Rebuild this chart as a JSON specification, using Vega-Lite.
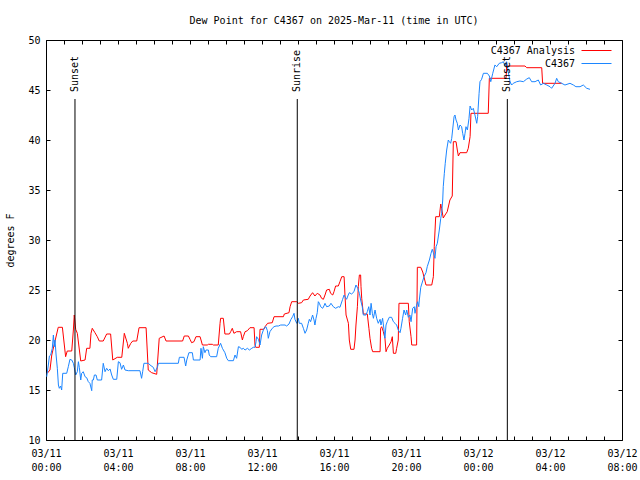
{
"$schema": "https://vega.github.io/schema/vega-lite/v6.json",
"width": 576, "height": 400,
"autosize": {"type": "none"},
"padding": {"left": 46, "top": 40, "right": 18, "bottom": 40},
"background": "white",
"title": {"text": "Dew Point for C4367 on 2025-Mar-11 (time in UTC)", "font": "DejaVu Sans Mono", "fontSize": 10, "fontWeight": "normal", "color": "black", "anchor": "middle", "offset": 9},
"config": {"view": {"stroke": "black", "strokeWidth": 1}, "axis": {"grid": false, "domain": false, "tickColor": "black", "labelColor": "black", "labelFont": "DejaVu Sans Mono", "labelFontSize": 10, "titleFont": "DejaVu Sans Mono", "titleFontSize": 10, "titleFontWeight": "normal", "titleColor": "black"}},
"datasets": {
"sun": [{"event": "Sunset", "hour": 1.61}, {"event": "Sunrise", "hour": 13.96}, {"event": "Sunset", "hour": 25.63}],
"dew": [
{"series":"C4367 Analysis","hour":0.07,"dewF":16.67},{"series":"C4367 Analysis","hour":0.22,"dewF":17.0},{"series":"C4367 Analysis","hour":0.32,"dewF":18.5},{"series":"C4367 Analysis","hour":0.68,"dewF":21.27},{"series":"C4367 Analysis","hour":0.91,"dewF":21.27},{"series":"C4367 Analysis","hour":1.09,"dewF":18.33},{"series":"C4367 Analysis","hour":1.18,"dewF":18.9},{"series":"C4367 Analysis","hour":1.43,"dewF":18.9},{"series":"C4367 Analysis","hour":1.52,"dewF":21.0},{"series":"C4367 Analysis","hour":1.57,"dewF":22.5},{"series":"C4367 Analysis","hour":1.65,"dewF":21.07},{"series":"C4367 Analysis","hour":1.74,"dewF":20.67},{"series":"C4367 Analysis","hour":1.93,"dewF":17.9},{"series":"C4367 Analysis","hour":2.17,"dewF":18.0},{"series":"C4367 Analysis","hour":2.26,"dewF":19.17},{"series":"C4367 Analysis","hour":2.44,"dewF":19.17},{"series":"C4367 Analysis","hour":2.5,"dewF":20.67},{"series":"C4367 Analysis","hour":2.57,"dewF":21.17},{"series":"C4367 Analysis","hour":2.72,"dewF":20.73},{"series":"C4367 Analysis","hour":2.85,"dewF":20.33},{"series":"C4367 Analysis","hour":2.96,"dewF":19.9},{"series":"C4367 Analysis","hour":3.18,"dewF":19.9},{"series":"C4367 Analysis","hour":3.37,"dewF":20.6},{"series":"C4367 Analysis","hour":3.59,"dewF":20.6},{"series":"C4367 Analysis","hour":3.71,"dewF":18.0},{"series":"C4367 Analysis","hour":3.96,"dewF":18.27},{"series":"C4367 Analysis","hour":4.21,"dewF":18.27},{"series":"C4367 Analysis","hour":4.35,"dewF":20.67},{"series":"C4367 Analysis","hour":4.52,"dewF":19.67},{"series":"C4367 Analysis","hour":4.57,"dewF":19.17},{"series":"C4367 Analysis","hour":4.71,"dewF":19.67},{"series":"C4367 Analysis","hour":4.82,"dewF":19.9},{"series":"C4367 Analysis","hour":5.04,"dewF":19.9},{"series":"C4367 Analysis","hour":5.17,"dewF":21.23},{"series":"C4367 Analysis","hour":5.56,"dewF":21.23},{"series":"C4367 Analysis","hour":5.68,"dewF":17.0},{"series":"C4367 Analysis","hour":5.87,"dewF":16.73},{"series":"C4367 Analysis","hour":6.15,"dewF":16.57},{"series":"C4367 Analysis","hour":6.29,"dewF":20.17},{"series":"C4367 Analysis","hour":6.56,"dewF":20.4},{"series":"C4367 Analysis","hour":6.67,"dewF":19.9},{"series":"C4367 Analysis","hour":7.59,"dewF":19.9},{"series":"C4367 Analysis","hour":7.68,"dewF":20.4},{"series":"C4367 Analysis","hour":7.91,"dewF":20.4},{"series":"C4367 Analysis","hour":8.0,"dewF":20.07},{"series":"C4367 Analysis","hour":8.09,"dewF":19.73},{"series":"C4367 Analysis","hour":8.22,"dewF":19.83},{"series":"C4367 Analysis","hour":8.33,"dewF":20.33},{"series":"C4367 Analysis","hour":8.56,"dewF":20.33},{"series":"C4367 Analysis","hour":8.69,"dewF":19.5},{"series":"C4367 Analysis","hour":8.96,"dewF":19.5},{"series":"C4367 Analysis","hour":9.02,"dewF":19.57},{"series":"C4367 Analysis","hour":9.24,"dewF":19.57},{"series":"C4367 Analysis","hour":9.3,"dewF":19.5},{"series":"C4367 Analysis","hour":9.57,"dewF":19.5},{"series":"C4367 Analysis","hour":9.67,"dewF":21.67},{"series":"C4367 Analysis","hour":9.7,"dewF":22.17},{"series":"C4367 Analysis","hour":9.85,"dewF":22.17},{"series":"C4367 Analysis","hour":9.94,"dewF":20.6},{"series":"C4367 Analysis","hour":10.19,"dewF":20.6},{"series":"C4367 Analysis","hour":10.26,"dewF":20.83},{"series":"C4367 Analysis","hour":10.35,"dewF":21.17},{"series":"C4367 Analysis","hour":10.44,"dewF":20.67},{"series":"C4367 Analysis","hour":10.59,"dewF":20.83},{"series":"C4367 Analysis","hour":10.81,"dewF":20.83},{"series":"C4367 Analysis","hour":10.91,"dewF":20.0},{"series":"C4367 Analysis","hour":10.96,"dewF":20.33},{"series":"C4367 Analysis","hour":11.06,"dewF":20.83},{"series":"C4367 Analysis","hour":11.19,"dewF":20.93},{"series":"C4367 Analysis","hour":11.33,"dewF":21.23},{"series":"C4367 Analysis","hour":11.56,"dewF":21.23},{"series":"C4367 Analysis","hour":11.61,"dewF":19.5},{"series":"C4367 Analysis","hour":11.65,"dewF":19.27},{"series":"C4367 Analysis","hour":11.85,"dewF":19.27},{"series":"C4367 Analysis","hour":11.89,"dewF":21.07},{"series":"C4367 Analysis","hour":12.11,"dewF":21.07},{"series":"C4367 Analysis","hour":12.17,"dewF":21.33},{"series":"C4367 Analysis","hour":12.31,"dewF":21.67},{"series":"C4367 Analysis","hour":12.57,"dewF":21.73},{"series":"C4367 Analysis","hour":12.67,"dewF":22.33},{"series":"C4367 Analysis","hour":13.19,"dewF":22.33},{"series":"C4367 Analysis","hour":13.24,"dewF":22.6},{"series":"C4367 Analysis","hour":13.5,"dewF":22.73},{"series":"C4367 Analysis","hour":13.56,"dewF":23.33},{"series":"C4367 Analysis","hour":13.65,"dewF":23.83},{"series":"C4367 Analysis","hour":13.93,"dewF":23.83},{"series":"C4367 Analysis","hour":14.02,"dewF":23.67},{"series":"C4367 Analysis","hour":14.2,"dewF":23.73},{"series":"C4367 Analysis","hour":14.3,"dewF":24.0},{"series":"C4367 Analysis","hour":14.57,"dewF":24.07},{"series":"C4367 Analysis","hour":14.67,"dewF":24.4},{"series":"C4367 Analysis","hour":14.81,"dewF":24.73},{"series":"C4367 Analysis","hour":14.94,"dewF":24.4},{"series":"C4367 Analysis","hour":15.07,"dewF":24.67},{"series":"C4367 Analysis","hour":15.22,"dewF":24.5},{"series":"C4367 Analysis","hour":15.31,"dewF":24.17},{"series":"C4367 Analysis","hour":15.41,"dewF":24.07},{"series":"C4367 Analysis","hour":15.5,"dewF":24.5},{"series":"C4367 Analysis","hour":15.59,"dewF":25.0},{"series":"C4367 Analysis","hour":15.74,"dewF":25.07},{"series":"C4367 Analysis","hour":15.81,"dewF":24.67},{"series":"C4367 Analysis","hour":15.93,"dewF":24.5},{"series":"C4367 Analysis","hour":16.0,"dewF":24.83},{"series":"C4367 Analysis","hour":16.09,"dewF":25.4},{"series":"C4367 Analysis","hour":16.24,"dewF":25.4},{"series":"C4367 Analysis","hour":16.33,"dewF":25.83},{"series":"C4367 Analysis","hour":16.43,"dewF":26.33},{"series":"C4367 Analysis","hour":16.56,"dewF":26.33},{"series":"C4367 Analysis","hour":16.61,"dewF":24.5},{"series":"C4367 Analysis","hour":16.67,"dewF":22.5},{"series":"C4367 Analysis","hour":16.8,"dewF":21.67},{"series":"C4367 Analysis","hour":16.85,"dewF":20.0},{"series":"C4367 Analysis","hour":16.93,"dewF":19.07},{"series":"C4367 Analysis","hour":17.11,"dewF":19.07},{"series":"C4367 Analysis","hour":17.17,"dewF":20.0},{"series":"C4367 Analysis","hour":17.22,"dewF":21.5},{"series":"C4367 Analysis","hour":17.3,"dewF":23.33},{"series":"C4367 Analysis","hour":17.35,"dewF":25.33},{"series":"C4367 Analysis","hour":17.41,"dewF":26.5},{"series":"C4367 Analysis","hour":17.48,"dewF":26.5},{"series":"C4367 Analysis","hour":17.5,"dewF":25.33},{"series":"C4367 Analysis","hour":17.54,"dewF":24.17},{"series":"C4367 Analysis","hour":17.63,"dewF":22.6},{"series":"C4367 Analysis","hour":17.85,"dewF":22.6},{"series":"C4367 Analysis","hour":17.94,"dewF":21.17},{"series":"C4367 Analysis","hour":18.0,"dewF":20.17},{"series":"C4367 Analysis","hour":18.09,"dewF":19.17},{"series":"C4367 Analysis","hour":18.15,"dewF":18.83},{"series":"C4367 Analysis","hour":18.56,"dewF":18.83},{"series":"C4367 Analysis","hour":18.59,"dewF":21.17},{"series":"C4367 Analysis","hour":18.65,"dewF":21.33},{"series":"C4367 Analysis","hour":18.74,"dewF":20.83},{"series":"C4367 Analysis","hour":18.83,"dewF":20.17},{"series":"C4367 Analysis","hour":18.89,"dewF":18.83},{"series":"C4367 Analysis","hour":18.96,"dewF":19.17},{"series":"C4367 Analysis","hour":19.07,"dewF":19.5},{"series":"C4367 Analysis","hour":19.17,"dewF":19.83},{"series":"C4367 Analysis","hour":19.24,"dewF":20.33},{"series":"C4367 Analysis","hour":19.3,"dewF":18.67},{"series":"C4367 Analysis","hour":19.43,"dewF":18.67},{"series":"C4367 Analysis","hour":19.48,"dewF":19.17},{"series":"C4367 Analysis","hour":19.57,"dewF":20.0},{"series":"C4367 Analysis","hour":19.61,"dewF":23.67},{"series":"C4367 Analysis","hour":20.13,"dewF":23.67},{"series":"C4367 Analysis","hour":20.18,"dewF":21.83},{"series":"C4367 Analysis","hour":20.28,"dewF":20.33},{"series":"C4367 Analysis","hour":20.32,"dewF":19.5},{"series":"C4367 Analysis","hour":20.59,"dewF":19.5},{"series":"C4367 Analysis","hour":20.63,"dewF":27.27},{"series":"C4367 Analysis","hour":20.82,"dewF":27.27},{"series":"C4367 Analysis","hour":20.93,"dewF":26.8},{"series":"C4367 Analysis","hour":21.11,"dewF":25.5},{"series":"C4367 Analysis","hour":21.43,"dewF":25.5},{"series":"C4367 Analysis","hour":21.52,"dewF":26.33},{"series":"C4367 Analysis","hour":21.57,"dewF":29.33},{"series":"C4367 Analysis","hour":21.65,"dewF":32.33},{"series":"C4367 Analysis","hour":21.85,"dewF":32.33},{"series":"C4367 Analysis","hour":21.93,"dewF":33.6},{"series":"C4367 Analysis","hour":21.98,"dewF":33.17},{"series":"C4367 Analysis","hour":22.07,"dewF":32.2},{"series":"C4367 Analysis","hour":22.17,"dewF":32.5},{"series":"C4367 Analysis","hour":22.29,"dewF":32.83},{"series":"C4367 Analysis","hour":22.44,"dewF":34.0},{"series":"C4367 Analysis","hour":22.57,"dewF":34.4},{"series":"C4367 Analysis","hour":22.63,"dewF":39.83},{"series":"C4367 Analysis","hour":22.78,"dewF":39.83},{"series":"C4367 Analysis","hour":22.85,"dewF":39.0},{"series":"C4367 Analysis","hour":22.91,"dewF":38.4},{"series":"C4367 Analysis","hour":23.0,"dewF":38.73},{"series":"C4367 Analysis","hour":23.37,"dewF":38.73},{"series":"C4367 Analysis","hour":23.46,"dewF":39.17},{"series":"C4367 Analysis","hour":23.56,"dewF":40.33},{"series":"C4367 Analysis","hour":23.61,"dewF":42.67},{"series":"C4367 Analysis","hour":24.57,"dewF":42.67},{"series":"C4367 Analysis","hour":24.63,"dewF":46.17},{"series":"C4367 Analysis","hour":25.56,"dewF":46.17},{"series":"C4367 Analysis","hour":25.59,"dewF":47.4},{"series":"C4367 Analysis","hour":26.61,"dewF":47.4},{"series":"C4367 Analysis","hour":26.71,"dewF":47.23},{"series":"C4367 Analysis","hour":27.54,"dewF":47.23},{"series":"C4367 Analysis","hour":27.59,"dewF":45.67},{"series":"C4367 Analysis","hour":28.65,"dewF":45.67},
{"series":"C4367","hour":0.04,"dewF":16.33},{"series":"C4367","hour":0.13,"dewF":17.5},{"series":"C4367","hour":0.19,"dewF":18.4},{"series":"C4367","hour":0.26,"dewF":18.5},{"series":"C4367","hour":0.35,"dewF":19.17},{"series":"C4367","hour":0.41,"dewF":20.5},{"series":"C4367","hour":0.46,"dewF":19.33},{"series":"C4367","hour":0.5,"dewF":20.0},{"series":"C4367","hour":0.56,"dewF":18.5},{"series":"C4367","hour":0.63,"dewF":17.17},{"series":"C4367","hour":0.69,"dewF":15.5},{"series":"C4367","hour":0.74,"dewF":15.17},{"series":"C4367","hour":0.81,"dewF":15.4},{"series":"C4367","hour":0.87,"dewF":15.0},{"series":"C4367","hour":0.93,"dewF":16.67},{"series":"C4367","hour":1.15,"dewF":16.67},{"series":"C4367","hour":1.24,"dewF":17.33},{"series":"C4367","hour":1.33,"dewF":18.07},{"series":"C4367","hour":1.43,"dewF":18.0},{"series":"C4367","hour":1.52,"dewF":17.67},{"series":"C4367","hour":1.57,"dewF":17.27},{"series":"C4367","hour":1.65,"dewF":16.5},{"series":"C4367","hour":1.74,"dewF":16.83},{"series":"C4367","hour":1.8,"dewF":17.83},{"series":"C4367","hour":1.85,"dewF":17.27},{"series":"C4367","hour":1.93,"dewF":16.0},{"series":"C4367","hour":1.98,"dewF":16.67},{"series":"C4367","hour":2.07,"dewF":16.83},{"series":"C4367","hour":2.17,"dewF":16.33},{"series":"C4367","hour":2.26,"dewF":16.23},{"series":"C4367","hour":2.35,"dewF":15.83},{"series":"C4367","hour":2.44,"dewF":15.67},{"series":"C4367","hour":2.54,"dewF":14.93},{"series":"C4367","hour":2.57,"dewF":16.0},{"series":"C4367","hour":2.63,"dewF":16.0},{"series":"C4367","hour":2.69,"dewF":16.5},{"series":"C4367","hour":2.78,"dewF":16.5},{"series":"C4367","hour":2.85,"dewF":16.0},{"series":"C4367","hour":3.09,"dewF":16.0},{"series":"C4367","hour":3.18,"dewF":17.67},{"series":"C4367","hour":3.28,"dewF":16.83},{"series":"C4367","hour":3.37,"dewF":17.17},{"series":"C4367","hour":3.46,"dewF":16.93},{"series":"C4367","hour":3.56,"dewF":17.1},{"series":"C4367","hour":3.65,"dewF":16.5},{"series":"C4367","hour":3.74,"dewF":16.07},{"series":"C4367","hour":3.93,"dewF":16.07},{"series":"C4367","hour":4.02,"dewF":17.83},{"series":"C4367","hour":4.11,"dewF":17.73},{"series":"C4367","hour":4.2,"dewF":17.07},{"series":"C4367","hour":4.3,"dewF":17.5},{"series":"C4367","hour":4.39,"dewF":17.0},{"series":"C4367","hour":4.57,"dewF":16.93},{"series":"C4367","hour":5.22,"dewF":16.93},{"series":"C4367","hour":5.31,"dewF":16.17},{"series":"C4367","hour":5.37,"dewF":16.83},{"series":"C4367","hour":5.44,"dewF":17.67},{"series":"C4367","hour":5.69,"dewF":17.67},{"series":"C4367","hour":5.78,"dewF":17.5},{"series":"C4367","hour":5.96,"dewF":17.27},{"series":"C4367","hour":6.06,"dewF":16.83},{"series":"C4367","hour":6.19,"dewF":17.27},{"series":"C4367","hour":6.24,"dewF":17.67},{"series":"C4367","hour":7.35,"dewF":17.67},{"series":"C4367","hour":7.41,"dewF":18.27},{"series":"C4367","hour":7.67,"dewF":18.27},{"series":"C4367","hour":7.76,"dewF":17.4},{"series":"C4367","hour":7.82,"dewF":18.0},{"series":"C4367","hour":7.94,"dewF":18.73},{"series":"C4367","hour":8.13,"dewF":18.73},{"series":"C4367","hour":8.19,"dewF":18.0},{"series":"C4367","hour":8.56,"dewF":18.0},{"series":"C4367","hour":8.61,"dewF":19.17},{"series":"C4367","hour":8.69,"dewF":18.17},{"series":"C4367","hour":8.74,"dewF":19.33},{"series":"C4367","hour":8.83,"dewF":18.73},{"series":"C4367","hour":8.89,"dewF":19.0},{"series":"C4367","hour":9.02,"dewF":19.0},{"series":"C4367","hour":9.07,"dewF":18.5},{"series":"C4367","hour":9.15,"dewF":18.33},{"series":"C4367","hour":9.48,"dewF":18.33},{"series":"C4367","hour":9.57,"dewF":19.17},{"series":"C4367","hour":9.7,"dewF":19.67},{"series":"C4367","hour":9.8,"dewF":19.17},{"series":"C4367","hour":9.94,"dewF":18.73},{"series":"C4367","hour":10.04,"dewF":18.17},{"series":"C4367","hour":10.13,"dewF":17.93},{"series":"C4367","hour":10.41,"dewF":17.93},{"series":"C4367","hour":10.5,"dewF":18.5},{"series":"C4367","hour":10.59,"dewF":18.17},{"series":"C4367","hour":10.69,"dewF":19.33},{"series":"C4367","hour":10.78,"dewF":19.27},{"series":"C4367","hour":10.87,"dewF":19.07},{"series":"C4367","hour":10.96,"dewF":19.17},{"series":"C4367","hour":11.06,"dewF":19.0},{"series":"C4367","hour":11.19,"dewF":19.17},{"series":"C4367","hour":11.3,"dewF":19.0},{"series":"C4367","hour":11.43,"dewF":19.17},{"series":"C4367","hour":11.52,"dewF":19.27},{"series":"C4367","hour":11.61,"dewF":19.27},{"series":"C4367","hour":11.67,"dewF":19.83},{"series":"C4367","hour":11.7,"dewF":20.33},{"series":"C4367","hour":11.8,"dewF":20.07},{"series":"C4367","hour":11.89,"dewF":19.5},{"series":"C4367","hour":11.98,"dewF":20.5},{"series":"C4367","hour":12.11,"dewF":21.17},{"series":"C4367","hour":12.22,"dewF":21.33},{"series":"C4367","hour":12.3,"dewF":20.93},{"series":"C4367","hour":12.35,"dewF":20.17},{"series":"C4367","hour":12.44,"dewF":20.83},{"series":"C4367","hour":12.57,"dewF":21.17},{"series":"C4367","hour":12.67,"dewF":21.33},{"series":"C4367","hour":12.78,"dewF":21.4},{"series":"C4367","hour":12.91,"dewF":21.4},{"series":"C4367","hour":13.04,"dewF":21.5},{"series":"C4367","hour":13.28,"dewF":21.5},{"series":"C4367","hour":13.37,"dewF":21.4},{"series":"C4367","hour":13.5,"dewF":21.6},{"series":"C4367","hour":13.61,"dewF":22.07},{"series":"C4367","hour":13.7,"dewF":22.33},{"series":"C4367","hour":13.78,"dewF":22.67},{"series":"C4367","hour":13.83,"dewF":22.07},{"series":"C4367","hour":13.93,"dewF":21.67},{"series":"C4367","hour":14.02,"dewF":22.17},{"series":"C4367","hour":14.07,"dewF":21.67},{"series":"C4367","hour":14.2,"dewF":21.67},{"series":"C4367","hour":14.3,"dewF":21.17},{"series":"C4367","hour":14.39,"dewF":20.67},{"series":"C4367","hour":14.48,"dewF":21.0},{"series":"C4367","hour":14.57,"dewF":21.67},{"series":"C4367","hour":14.63,"dewF":22.07},{"series":"C4367","hour":14.7,"dewF":21.83},{"series":"C4367","hour":14.81,"dewF":22.5},{"series":"C4367","hour":14.89,"dewF":22.0},{"series":"C4367","hour":14.94,"dewF":21.5},{"series":"C4367","hour":15.0,"dewF":22.17},{"series":"C4367","hour":15.07,"dewF":22.73},{"series":"C4367","hour":15.13,"dewF":23.83},{"series":"C4367","hour":15.19,"dewF":23.67},{"series":"C4367","hour":15.26,"dewF":23.33},{"series":"C4367","hour":15.37,"dewF":23.17},{"series":"C4367","hour":15.44,"dewF":23.4},{"series":"C4367","hour":15.5,"dewF":23.67},{"series":"C4367","hour":15.59,"dewF":23.33},{"series":"C4367","hour":15.74,"dewF":23.4},{"series":"C4367","hour":15.83,"dewF":23.67},{"series":"C4367","hour":15.96,"dewF":23.33},{"series":"C4367","hour":16.09,"dewF":23.17},{"series":"C4367","hour":16.24,"dewF":23.33},{"series":"C4367","hour":16.33,"dewF":23.27},{"series":"C4367","hour":16.48,"dewF":24.07},{"series":"C4367","hour":16.56,"dewF":24.5},{"series":"C4367","hour":16.61,"dewF":24.33},{"series":"C4367","hour":16.7,"dewF":24.07},{"series":"C4367","hour":16.79,"dewF":24.5},{"series":"C4367","hour":16.85,"dewF":24.73},{"series":"C4367","hour":16.98,"dewF":24.6},{"series":"C4367","hour":17.11,"dewF":24.83},{"series":"C4367","hour":17.22,"dewF":25.5},{"series":"C4367","hour":17.32,"dewF":25.17},{"series":"C4367","hour":17.41,"dewF":24.67},{"series":"C4367","hour":17.48,"dewF":24.0},{"series":"C4367","hour":17.57,"dewF":23.33},{"series":"C4367","hour":17.63,"dewF":22.5},{"series":"C4367","hour":17.78,"dewF":22.5},{"series":"C4367","hour":17.85,"dewF":22.83},{"series":"C4367","hour":17.93,"dewF":23.33},{"series":"C4367","hour":18.0,"dewF":22.5},{"series":"C4367","hour":18.06,"dewF":23.67},{"series":"C4367","hour":18.13,"dewF":22.67},{"series":"C4367","hour":18.19,"dewF":22.17},{"series":"C4367","hour":18.28,"dewF":23.0},{"series":"C4367","hour":18.37,"dewF":22.17},{"series":"C4367","hour":18.46,"dewF":21.67},{"series":"C4367","hour":18.56,"dewF":22.07},{"series":"C4367","hour":18.61,"dewF":21.5},{"series":"C4367","hour":18.7,"dewF":22.17},{"series":"C4367","hour":18.78,"dewF":21.0},{"series":"C4367","hour":18.83,"dewF":20.17},{"series":"C4367","hour":18.89,"dewF":21.5},{"series":"C4367","hour":18.96,"dewF":21.83},{"series":"C4367","hour":19.07,"dewF":22.27},{"series":"C4367","hour":19.2,"dewF":22.27},{"series":"C4367","hour":19.3,"dewF":21.83},{"series":"C4367","hour":19.39,"dewF":21.67},{"series":"C4367","hour":19.48,"dewF":21.5},{"series":"C4367","hour":19.57,"dewF":21.0},{"series":"C4367","hour":19.67,"dewF":20.73},{"series":"C4367","hour":19.72,"dewF":21.17},{"series":"C4367","hour":19.81,"dewF":22.17},{"series":"C4367","hour":19.89,"dewF":23.0},{"series":"C4367","hour":19.98,"dewF":22.5},{"series":"C4367","hour":20.04,"dewF":23.0},{"series":"C4367","hour":20.13,"dewF":22.27},{"series":"C4367","hour":20.22,"dewF":22.5},{"series":"C4367","hour":20.28,"dewF":21.83},{"series":"C4367","hour":20.37,"dewF":23.17},{"series":"C4367","hour":20.46,"dewF":23.33},{"series":"C4367","hour":20.5,"dewF":22.67},{"series":"C4367","hour":20.59,"dewF":23.5},{"series":"C4367","hour":20.65,"dewF":23.83},{"series":"C4367","hour":20.71,"dewF":23.33},{"series":"C4367","hour":20.74,"dewF":24.0},{"series":"C4367","hour":20.82,"dewF":25.27},{"series":"C4367","hour":21.0,"dewF":26.33},{"series":"C4367","hour":21.11,"dewF":26.73},{"series":"C4367","hour":21.18,"dewF":27.33},{"series":"C4367","hour":21.3,"dewF":28.0},{"series":"C4367","hour":21.39,"dewF":28.67},{"series":"C4367","hour":21.46,"dewF":29.07},{"series":"C4367","hour":21.52,"dewF":28.73},{"series":"C4367","hour":21.61,"dewF":28.17},{"series":"C4367","hour":21.67,"dewF":29.33},{"series":"C4367","hour":21.74,"dewF":29.67},{"series":"C4367","hour":21.85,"dewF":31.0},{"series":"C4367","hour":21.93,"dewF":32.17},{"series":"C4367","hour":21.98,"dewF":32.67},{"series":"C4367","hour":22.04,"dewF":34.0},{"series":"C4367","hour":22.07,"dewF":35.33},{"series":"C4367","hour":22.13,"dewF":36.67},{"series":"C4367","hour":22.18,"dewF":37.67},{"series":"C4367","hour":22.26,"dewF":39.0},{"series":"C4367","hour":22.35,"dewF":40.0},{"series":"C4367","hour":22.41,"dewF":39.83},{"series":"C4367","hour":22.48,"dewF":39.67},{"series":"C4367","hour":22.54,"dewF":40.17},{"series":"C4367","hour":22.59,"dewF":41.0},{"series":"C4367","hour":22.67,"dewF":42.33},{"series":"C4367","hour":22.72,"dewF":42.5},{"series":"C4367","hour":22.78,"dewF":42.0},{"series":"C4367","hour":22.85,"dewF":41.67},{"series":"C4367","hour":22.91,"dewF":41.0},{"series":"C4367","hour":23.0,"dewF":41.5},{"series":"C4367","hour":23.09,"dewF":41.33},{"series":"C4367","hour":23.15,"dewF":40.67},{"series":"C4367","hour":23.22,"dewF":40.0},{"series":"C4367","hour":23.28,"dewF":40.67},{"series":"C4367","hour":23.33,"dewF":41.33},{"series":"C4367","hour":23.41,"dewF":41.0},{"series":"C4367","hour":23.5,"dewF":42.17},{"series":"C4367","hour":23.56,"dewF":43.4},{"series":"C4367","hour":23.65,"dewF":43.0},{"series":"C4367","hour":23.74,"dewF":43.17},{"series":"C4367","hour":23.83,"dewF":42.5},{"series":"C4367","hour":23.93,"dewF":41.67},{"series":"C4367","hour":23.98,"dewF":42.33},{"series":"C4367","hour":24.06,"dewF":44.67},{"series":"C4367","hour":24.11,"dewF":45.83},{"series":"C4367","hour":24.2,"dewF":46.07},{"series":"C4367","hour":24.3,"dewF":46.67},{"series":"C4367","hour":24.52,"dewF":46.67},{"series":"C4367","hour":24.63,"dewF":46.4},{"series":"C4367","hour":24.71,"dewF":45.83},{"series":"C4367","hour":24.82,"dewF":46.67},{"series":"C4367","hour":24.94,"dewF":47.5},{"series":"C4367","hour":25.04,"dewF":47.33},{"series":"C4367","hour":25.18,"dewF":47.67},{"series":"C4367","hour":25.31,"dewF":47.73},{"series":"C4367","hour":25.41,"dewF":47.83},{"series":"C4367","hour":25.5,"dewF":47.4},{"series":"C4367","hour":25.59,"dewF":47.83},{"series":"C4367","hour":25.68,"dewF":46.83},{"series":"C4367","hour":25.78,"dewF":45.83},{"series":"C4367","hour":25.87,"dewF":45.5},{"series":"C4367","hour":25.96,"dewF":45.67},{"series":"C4367","hour":26.15,"dewF":45.83},{"series":"C4367","hour":26.33,"dewF":45.9},{"series":"C4367","hour":26.52,"dewF":45.83},{"series":"C4367","hour":26.71,"dewF":46.1},{"series":"C4367","hour":26.85,"dewF":46.23},{"series":"C4367","hour":26.98,"dewF":45.83},{"series":"C4367","hour":27.17,"dewF":45.83},{"series":"C4367","hour":27.35,"dewF":46.0},{"series":"C4367","hour":27.48,"dewF":45.5},{"series":"C4367","hour":27.63,"dewF":45.67},{"series":"C4367","hour":27.82,"dewF":45.5},{"series":"C4367","hour":28.0,"dewF":45.33},{"series":"C4367","hour":28.09,"dewF":45.17},{"series":"C4367","hour":28.28,"dewF":45.67},{"series":"C4367","hour":28.37,"dewF":46.17},{"series":"C4367","hour":28.46,"dewF":45.83},{"series":"C4367","hour":28.65,"dewF":45.67},{"series":"C4367","hour":28.83,"dewF":45.5},{"series":"C4367","hour":29.11,"dewF":45.67},{"series":"C4367","hour":29.3,"dewF":45.5},{"series":"C4367","hour":29.44,"dewF":45.33},{"series":"C4367","hour":29.67,"dewF":45.33},{"series":"C4367","hour":29.85,"dewF":45.5},{"series":"C4367","hour":30.04,"dewF":45.17},{"series":"C4367","hour":30.22,"dewF":45.07}
]},
"resolve": {"axis": {"x": "independent", "y": "independent"}},
"layer": [
{"data": {"name": "dew"}, "transform": [{"filter": "datum.series == 'C4367 Analysis'"}],
 "mark": {"type": "line", "strokeWidth": 1, "clip": true},
 "encoding": {
  "x": {"field": "hour", "type": "quantitative", "scale": {"domain": [0, 32], "nice": false, "zero": false},
   "axis": {"orient": "bottom", "title": null, "values": [0,1,2,3,4,5,6,7,8,9,10,11,12,13,14,15,16,17,18,19,20,21,22,23,24,25,26,27,28,29,30,31,32], "tickSize": -4, "labelPadding": 12, "labelOverlap": false, "labelFlush": false, "labelLineHeight": 14, "labelExpr": "datum.value % 4 == 0 ? [datum.value < 24 ? '03/11' : '03/12', (datum.value % 24 < 10 ? '0' : '') + (datum.value % 24) + ':00'] : ''"}},
  "y": {"field": "dewF", "type": "quantitative", "scale": {"domain": [10, 50], "nice": false, "zero": false},
   "axis": {"orient": "left", "title": "degrees F", "values": [10,15,20,25,30,35,40,45,50], "tickSize": -4, "labelPadding": 10, "titlePadding": 12}},
  "color": {"field": "series", "type": "nominal", "scale": {"domain": ["C4367 Analysis", "C4367"], "range": ["#ff0000", "#1c86ff"]},
   "legend": {"title": null, "orient": "none", "legendX": 445, "legendY": 2.5, "direction": "vertical", "symbolType": "M-2,0H2", "symbolSize": 225, "symbolStrokeWidth": 1, "symbolOffset": 97.5, "labelAlign": "right", "labelOffset": -29.5, "labelFont": "DejaVu Sans Mono", "labelFontSize": 10, "labelColor": "black", "rowPadding": -0.5, "padding": 0, "labelLimit": 200}}
 }},
{"data": {"name": "dew"}, "transform": [{"filter": "datum.series == 'C4367'"}],
 "mark": {"type": "line", "strokeWidth": 1, "clip": true},
 "encoding": {
  "x": {"field": "hour", "type": "quantitative", "axis": null},
  "y": {"field": "dewF", "type": "quantitative", "axis": null},
  "color": {"field": "series", "type": "nominal", "legend": {"title": null, "orient": "none", "legendX": 445, "legendY": 2.5, "direction": "vertical", "symbolType": "M-2,0H2", "symbolSize": 225, "symbolStrokeWidth": 1, "symbolOffset": 97.5, "labelAlign": "right", "labelOffset": -29.5, "labelFont": "DejaVu Sans Mono", "labelFontSize": 10, "labelColor": "black", "rowPadding": -0.5, "padding": 0, "labelLimit": 200}}
 }},
{"data": {"name": "sun"},
 "mark": {"type": "rule", "color": "black", "strokeWidth": 1},
 "encoding": {
  "x": {"field": "hour", "type": "quantitative", "axis": {"orient": "top", "title": null, "values": [0,1,2,3,4,5,6,7,8,9,10,11,12,13,14,15,16,17,18,19,20,21,22,23,24,25,26,27,28,29,30,31,32], "tickSize": -4, "labels": false}},
  "y": {"datum": 10, "type": "quantitative", "axis": {"orient": "right", "title": null, "values": [10,15,20,25,30,35,40,45,50], "tickSize": -4, "labels": false}},
  "y2": {"datum": 44.1}
 }},
{"data": {"name": "sun"},
 "mark": {"type": "text", "angle": 270, "align": "left", "baseline": "middle", "font": "DejaVu Sans Mono", "fontSize": 10, "color": "black"},
 "encoding": {
  "x": {"field": "hour", "type": "quantitative", "axis": null},
  "y": {"datum": 44.8, "type": "quantitative", "axis": null},
  "text": {"field": "event"}
 }}
]
}
